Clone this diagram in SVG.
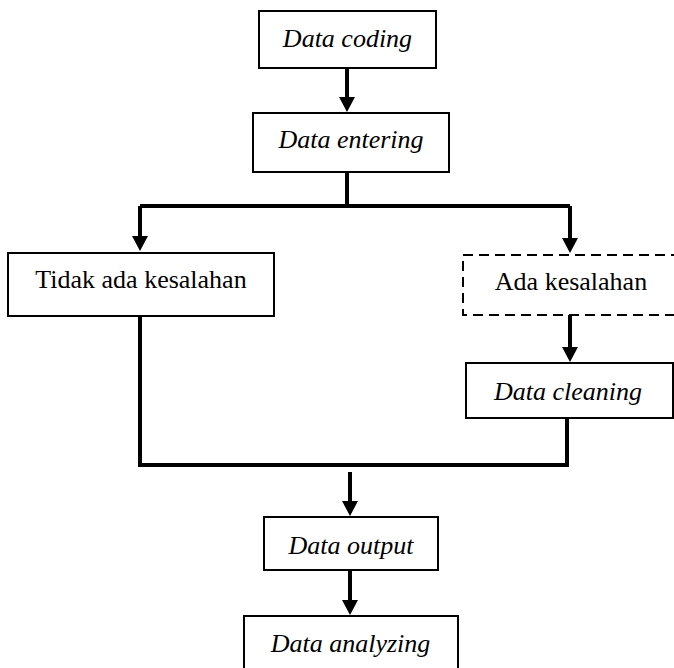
<svg xmlns="http://www.w3.org/2000/svg" width="674" height="668" viewBox="0 0 674 668">
<style>
  .box { fill: #fff; stroke: #000; stroke-width: 2; }
  .dash { fill: #fff; stroke: #000; stroke-width: 2; stroke-dasharray: 10 6; }
  .t { font-family: "Liberation Serif", "Times New Roman", serif; font-size: 26px; fill: #000; text-anchor: middle; }
  .i { font-style: italic; }
  .c { fill: none; stroke: #000; stroke-width: 4; }
</style>
<defs>
  <marker id="ah" markerUnits="userSpaceOnUse" markerWidth="16" markerHeight="16" refX="5" refY="8" orient="auto">
    <path d="M0,0 L15,8 L0,16 Z" fill="#000"/>
  </marker>
</defs>
<rect width="674" height="668" fill="#fff"/>
<g id="connectors">
  <line class="c" x1="347" y1="68" x2="347" y2="102" marker-end="url(#ah)"/>
  <polyline class="c" points="347,172 347,206"/>
  <polyline class="c" points="140,206 570,206"/>
  <line class="c" x1="140" y1="206" x2="140" y2="241" marker-end="url(#ah)"/>
  <line class="c" x1="570" y1="206" x2="570" y2="243" marker-end="url(#ah)"/>
  <line class="c" x1="570" y1="315" x2="570" y2="352" marker-end="url(#ah)"/>
  <polyline class="c" points="140,316 140,465 567,465 567,418"/>
  <line class="c" x1="350" y1="472" x2="350" y2="506" marker-end="url(#ah)"/>
  <line class="c" x1="350" y1="570" x2="350" y2="605" marker-end="url(#ah)"/>
</g>
<g id="data-coding">
  <rect class="box" x="259" y="11" width="177" height="57"/>
  <text class="t i" x="347.5" y="47">Data coding</text>
</g>
<g id="data-entering">
  <rect class="box" x="253" y="113" width="196" height="59"/>
  <text class="t i" x="351" y="148">Data entering</text>
</g>
<g id="tidak-ada-kesalahan">
  <rect class="box" x="8" y="253" width="266" height="63"/>
  <text class="t" x="141" y="288">Tidak ada kesalahan</text>
</g>
<g id="ada-kesalahan">
  <rect class="dash" x="463" y="255" width="220" height="60"/>
  <text class="t" x="571" y="290">Ada kesalahan</text>
</g>
<g id="data-cleaning">
  <rect class="box" x="466" y="363" width="207" height="55"/>
  <text class="t i" x="568" y="400">Data cleaning</text>
</g>
<g id="data-output">
  <rect class="box" x="264" y="517" width="174" height="53"/>
  <text class="t i" x="351" y="554">Data output</text>
</g>
<g id="data-analyzing">
  <rect class="box" x="244" y="616" width="214" height="60"/>
  <text class="t i" x="350.5" y="652">Data analyzing</text>
</g>
</svg>
